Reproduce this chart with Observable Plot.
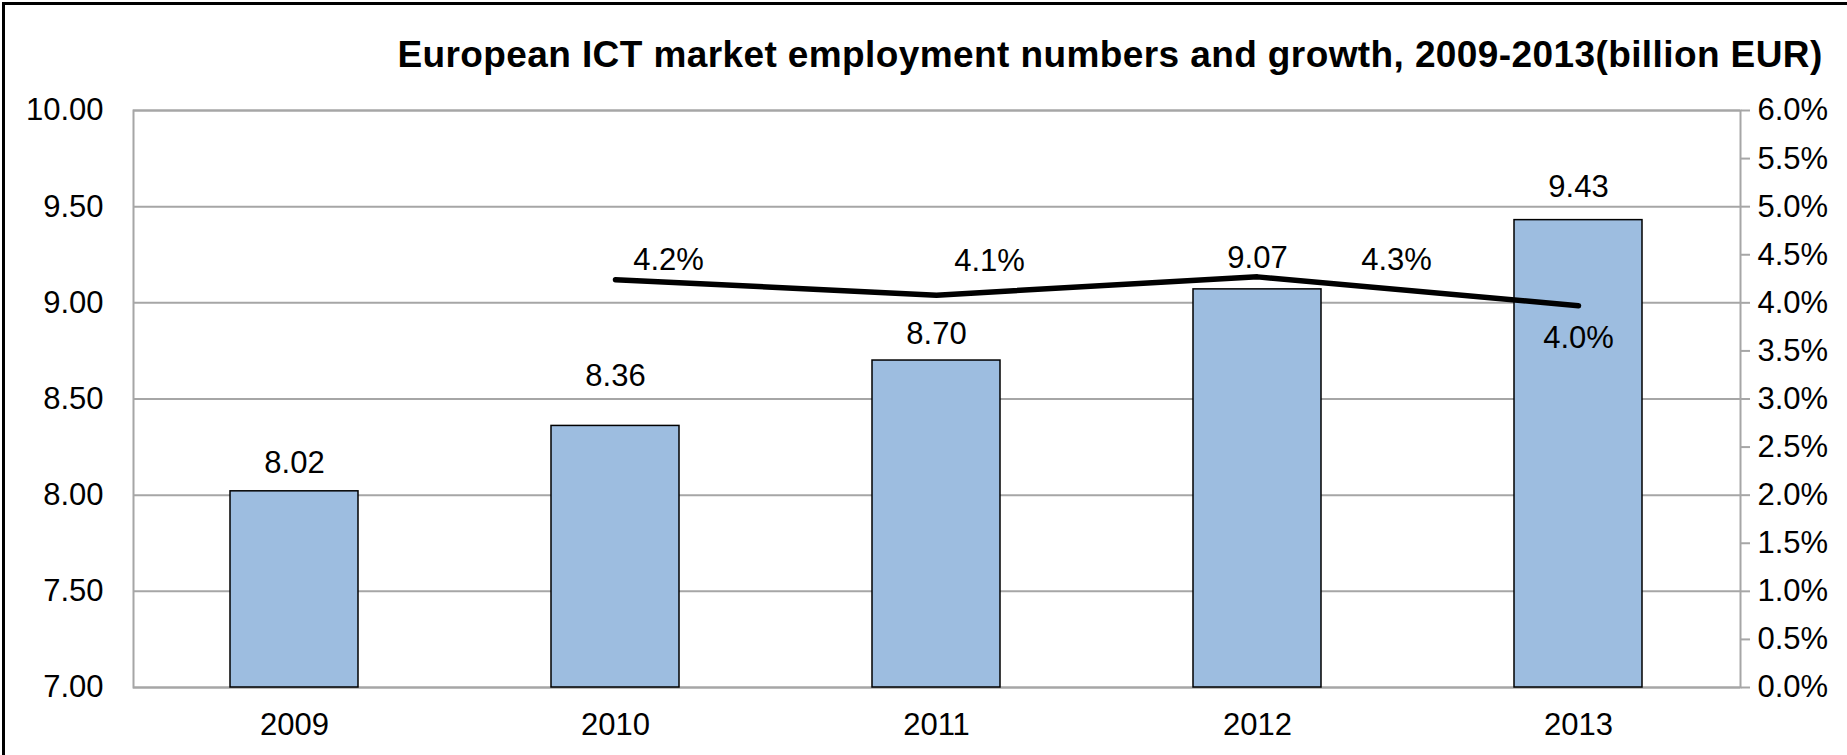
<!DOCTYPE html>
<html><head><meta charset="utf-8">
<script src="https://cdn.jsdelivr.net/npm/d3@7"></script>
<script src="https://cdn.jsdelivr.net/npm/@observablehq/plot@0.6"></script>
<style>
html,body{margin:0;padding:0;background:#fff;overflow:hidden;width:1847px;height:755px;}
#frame{position:absolute;left:2px;top:2px;width:1900px;height:800px;border-left:3px solid #000;border-top:3px solid #000;}
#title{position:absolute;left:1110px;top:36px;transform:translateX(-50%);white-space:nowrap;font-family:"Liberation Sans",Arial,sans-serif;font-weight:bold;font-size:37px;line-height:37px;letter-spacing:0.4px;color:#000;}
#chart{position:absolute;left:0;top:0;}
</style></head><body>
<div id="frame"></div>
<div id="title">European ICT market employment numbers and growth, 2009-2013(billion EUR)</div>
<div id="chart"></div>
<script>
const years = ["2009", "2010", "2011", "2012", "2013"];
const market = [8.02, 8.36, 8.70, 9.07, 9.43];
const marketLabels = ["8.02", "8.36", "8.70", "9.07", "9.43"];
const growthYears = ["2010", "2011", "2012", "2013"];
const growth = [0.0424, 0.0408, 0.0427, 0.0397];
const growthLabels = ["4.2%", "4.1%", "4.3%", "4.0%"];
const leftTicks = [7.0, 7.5, 8.0, 8.5, 9.0, 9.5, 10.0];
const rightTicks = [0, 0.005, 0.01, 0.015, 0.02, 0.025, 0.03, 0.035, 0.04, 0.045, 0.05, 0.055, 0.06];

// label nudges (styling only)
const barLabelDy = [-28, -50, -26, -31, -33];
const lineLabelOffset = [[53, -20], [53, -34], [139, -17], [0, 32]];

const Y0 = 7, Y1 = 10, P1 = 0.06;
const pctToY = p => Y0 + p / P1 * (Y1 - Y0);

const bars = years.map((y, i) => ({year: y, value: market[i], label: marketLabels[i]}));
const line = growthYears.map((y, i) => ({year: y, g: growth[i], label: growthLabels[i]}));

const gridColor = "#a6a6a6";
const font = "'Liberation Sans', Arial, sans-serif";
const fs = 31;

const marks = [
  Plot.gridY(leftTicks, {stroke: gridColor, strokeOpacity: 1, strokeWidth: 2}),
  Plot.frame({stroke: gridColor, strokeWidth: 2}),
  Plot.barY(bars, {x: "year", y1: () => Y0, y2: "value", fill: "#9dbde0", stroke: "#000", strokeWidth: 1.5}),
  Plot.line(line, {x: "year", y: d => pctToY(d.g), stroke: "#000", strokeWidth: 5.5, strokeLinecap: "round", strokeLinejoin: "round"}),
  Plot.axisY(leftTicks, {anchor: "left", label: null, tickSize: 0, tickPadding: 30, tickFormat: d => d.toFixed(2), fontSize: fs}),
  Plot.axisY(rightTicks.map(pctToY), {anchor: "right", label: null, tickSize: 9, tickPadding: 8, stroke: gridColor, strokeWidth: 2, strokeOpacity: 1, tickFormat: d => (((d - Y0) / (Y1 - Y0)) * P1 * 100).toFixed(1) + "%", fontSize: fs}),
  Plot.axisX({anchor: "bottom", label: null, tickSize: 0, tickPadding: 25, fontSize: fs})
];
bars.forEach((b, i) => marks.push(Plot.text([b], {x: "year", y: "value", text: "label", dy: barLabelDy[i], fontSize: fs, fill: "#000"})));
line.forEach((l, i) => marks.push(Plot.text([l], {x: "year", y: d => pctToY(d.g), text: "label", dx: lineLabelOffset[i][0], dy: lineLabelOffset[i][1], fontSize: fs, fill: "#000"})));

const chart = Plot.plot({
  width: 1847, height: 755,
  marginLeft: 133, marginRight: 107, marginTop: 110, marginBottom: 68,
  x: {domain: years, paddingInner: 0.6, paddingOuter: 0.3},
  y: {domain: [Y0, Y1]},
  style: {fontFamily: font, fontSize: fs + "px", color: "#000", background: "transparent"},
  marks
});
document.getElementById("chart").appendChild(chart);
</script>
</body></html>
